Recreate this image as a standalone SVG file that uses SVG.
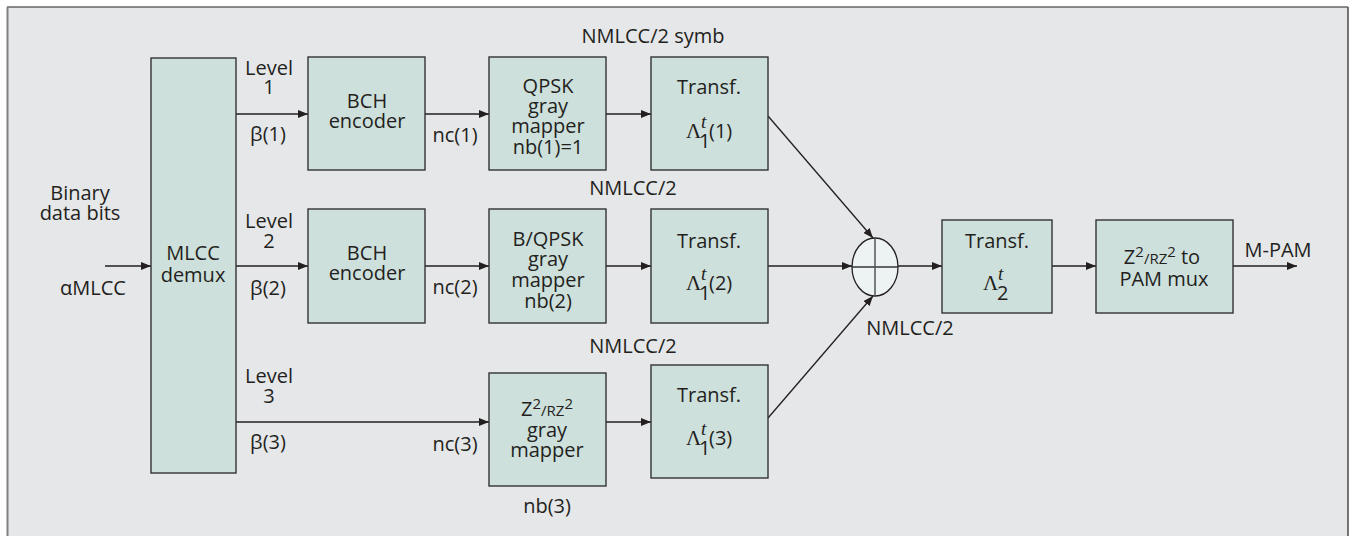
<svg xmlns="http://www.w3.org/2000/svg" width="1351" height="536" viewBox="0 0 1351 536">
<style>
text{font-family:"Open Sans","Noto Sans","Liberation Sans",sans-serif;font-size:20px;fill:#231f20;text-anchor:middle}
.box{fill:#cee0dc;stroke:#333;stroke-width:1.4}
.ln{stroke:#231f20;stroke-width:1.3;fill:none;marker-end:url(#ah)}
.lam{font-family:"Liberation Serif","DejaVu Serif",serif;font-size:21px;text-anchor:start}
.st{text-anchor:start}
.it{font-style:italic;font-family:"Liberation Serif","DejaVu Serif",serif;font-size:19px}
.sm{font-size:15px}
</style>
<defs>
<marker id="ah" viewBox="0 0 10 8" refX="10" refY="4" markerWidth="10" markerHeight="8" markerUnits="userSpaceOnUse" orient="auto">
<path d="M0,0 L10,4 L0,8 Z" fill="#231f20"/>
</marker>
</defs>
<rect x="0" y="0" width="1351" height="536" fill="#ffffff"/>
<g id="frame">
<rect x="7" y="7" width="1341" height="535" fill="#e6e7e9"/>
<line x1="7" y1="7" x2="1348" y2="7" stroke="#231f20" stroke-width="1.2"/>
<line x1="7.5" y1="7" x2="7.5" y2="536" stroke="#808080" stroke-width="2"/>
<line x1="1348" y1="7" x2="1348" y2="536" stroke="#555" stroke-width="1.6"/>
</g>
<g id="connectors">
<line class="ln" x1="105" y1="266" x2="151" y2="266"/>
<line class="ln" x1="236" y1="114" x2="308" y2="114"/>
<line class="ln" x1="236" y1="266" x2="308" y2="266"/>
<line class="ln" x1="236" y1="422" x2="489" y2="422"/>
<line class="ln" x1="425" y1="114" x2="489" y2="114"/>
<line class="ln" x1="425" y1="266" x2="489" y2="266"/>
<line class="ln" x1="606" y1="114" x2="651" y2="114"/>
<line class="ln" x1="606" y1="266" x2="651" y2="266"/>
<line class="ln" x1="606" y1="422" x2="651" y2="422"/>
<line class="ln" x1="768" y1="116" x2="873" y2="238"/>
<line class="ln" x1="768" y1="266" x2="852" y2="266"/>
<line class="ln" x1="768" y1="418" x2="873" y2="296"/>
<line class="ln" x1="898" y1="266" x2="942" y2="266"/>
<line class="ln" x1="1052" y1="266" x2="1096" y2="266"/>
<line class="ln" x1="1233" y1="266" x2="1297" y2="266"/>
</g>
<g id="input-labels">
<text x="80" y="200">Binary</text>
<text x="80" y="220">data bits</text>
<text x="93" y="295">αMLCC</text>
<text x="269" y="75">Level</text>
<text x="269" y="94">1</text>
<text x="268" y="141">β(1)</text>
<text x="269" y="228">Level</text>
<text x="269" y="248">2</text>
<text x="268" y="295">β(2)</text>
<text x="269" y="383">Level</text>
<text x="269" y="403">3</text>
<text x="268" y="449">β(3)</text>
<text x="455" y="142">nc(1)</text>
<text x="455" y="294">nc(2)</text>
<text x="455" y="451">nc(3)</text>
<text x="653" y="43">NMLCC/2 symb</text>
<text x="633" y="195">NMLCC/2</text>
<text x="633" y="353">NMLCC/2</text>
<text x="547" y="513">nb(3)</text>
<text x="910" y="335">NMLCC/2</text>
<text x="1278" y="257">M-PAM</text>
</g>
<g id="demux">
<rect class="box" x="151" y="58" width="85" height="415"/>
<text x="193" y="260">MLCC</text>
<text x="193" y="282">demux</text>
</g>
<g id="bch1">
<rect class="box" x="308" y="57" width="117" height="113"/>
<text x="367" y="108">BCH</text>
<text x="367" y="128">encoder</text>
</g>
<g id="bch2">
<rect class="box" x="308" y="209" width="117" height="114"/>
<text x="367" y="260">BCH</text>
<text x="367" y="280">encoder</text>
</g>
<g id="qpsk">
<rect class="box" x="489" y="57" width="117" height="113"/>
<text x="548" y="93">QPSK</text>
<text x="548" y="113">gray</text>
<text x="548" y="133">mapper</text>
<text x="548" y="154">nb(1)=1</text>
</g>
<g id="bqpsk">
<rect class="box" x="489" y="209" width="117" height="114"/>
<text x="548" y="246">B/QPSK</text>
<text x="548" y="266">gray</text>
<text x="548" y="287">mapper</text>
<text x="548" y="308">nb(2)</text>
</g>
<g id="z2mapper">
<rect class="box" x="489" y="373" width="117" height="113"/>
<text x="547" y="416">Z<tspan class="sm" dy="-7">2</tspan><tspan class="sm" dy="7">/RZ</tspan><tspan class="sm" dy="-7">2</tspan></text>
<text x="547" y="437">gray</text>
<text x="547" y="457">mapper</text>
</g>
<g id="transf1">
<rect class="box" x="651" y="57" width="117" height="113"/>
<text x="709" y="94">Transf.</text>
<text class="lam" x="686" y="138">Λ</text>
<text class="it st" x="701" y="128">t</text>
<text class="st" x="699" y="148">1</text>
<text class="st" x="709" y="138">(1)</text>
</g>
<g id="transf2">
<rect class="box" x="651" y="209" width="117" height="114"/>
<text x="709" y="248">Transf.</text>
<text class="lam" x="686" y="290">Λ</text>
<text class="it st" x="701" y="280">t</text>
<text class="st" x="699" y="300">1</text>
<text class="st" x="709" y="290">(2)</text>
</g>
<g id="transf3">
<rect class="box" x="651" y="365" width="117" height="113"/>
<text x="709" y="402">Transf.</text>
<text class="lam" x="686" y="445">Λ</text>
<text class="it st" x="701" y="435">t</text>
<text class="st" x="699" y="455">1</text>
<text class="st" x="709" y="445">(3)</text>
</g>
<g id="sum">
<ellipse cx="875" cy="267" rx="23" ry="29" fill="#edf2f2" stroke="#231f20" stroke-width="1.3"/>
<line x1="852" y1="267" x2="898" y2="267" stroke="#333" stroke-width="1.3"/>
<line x1="875" y1="238" x2="875" y2="296" stroke="#555" stroke-width="1.5"/>
</g>
<g id="transf-final">
<rect class="box" x="942" y="220" width="110" height="93"/>
<text x="997" y="248">Transf.</text>
<text class="lam" x="983" y="290">Λ</text>
<text class="it st" x="998" y="280">t</text>
<text class="st" x="997" y="300">2</text>
</g>
<g id="pam-mux">
<rect class="box" x="1096" y="220" width="137" height="93"/>
<text x="1162" y="264">Z<tspan class="sm" dy="-7">2</tspan><tspan class="sm" dy="7">/RZ</tspan><tspan class="sm" dy="-7">2</tspan><tspan dy="7"> to</tspan></text>
<text x="1164" y="286">PAM mux</text>
</g>
</svg>
